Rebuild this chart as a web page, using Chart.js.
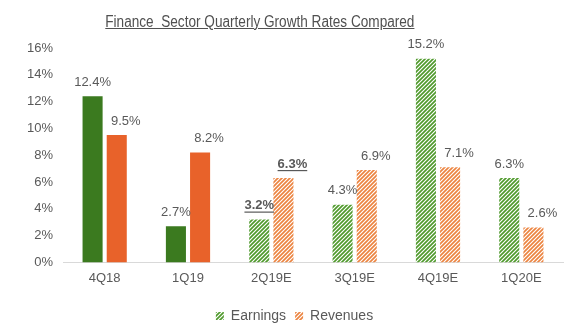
<!DOCTYPE html>
<html>
<head>
<meta charset="utf-8">
<script src="https://cdn.jsdelivr.net/npm/chart.js@4/dist/chart.umd.min.js"></script>
<style>
  html, body { margin: 0; padding: 0; background: #fff; }
  #wrap { position: relative; width: 581px; height: 323px; }
  #title { position: absolute; left: 0; top: 13px; width: 520px; text-align: center;
    font-family: "Liberation Sans", Arial, sans-serif; font-size: 16px;
    color: #505050; white-space: pre; }
  #title span { display: inline-block; transform: scaleX(0.85); transform-origin: center; text-decoration: underline; }
  canvas { position: absolute; left: 0; top: 0; }
</style>
</head>
<body>
<div id="wrap">
  <canvas id="c" width="581" height="323"></canvas>
  <div id="title"><span>Finance  Sector Quarterly Growth Rates Compared</span></div>
</div>
<script>
const categories = ["4Q18", "1Q19", "2Q19E", "3Q19E", "4Q19E", "1Q20E"];
const earnings = [12.4, 2.7, 3.2, 4.3, 15.2, 6.3];
const revenues = [9.5, 8.2, 6.3, 6.9, 7.1, 2.6];
const estimated = [false, false, true, true, true, true];
const seriesNames = ["Earnings", "Revenues"];
const yTicks = [0, 2, 4, 6, 8, 10, 12, 14, 16];

function hatch(color) {
  const s = 4;
  const cv = document.createElement('canvas');
  cv.width = s; cv.height = s;
  const g = cv.getContext('2d');
  g.fillStyle = '#ffffff';
  g.fillRect(0, 0, s, s);
  g.strokeStyle = color;
  g.lineWidth = 1.7;
  g.beginPath();
  g.moveTo(0, s); g.lineTo(s, 0);
  g.moveTo(-1, 1); g.lineTo(1, -1);
  g.moveTo(s - 1, s + 1); g.lineTo(s + 1, s - 1);
  g.stroke();
  return document.getElementById('c').getContext('2d').createPattern(cv, 'repeat');
}
const greenSolid = '#3b7a1f', orangeSolid = '#e8622a';
const greenHatch = hatch('#4f9a2c'), orangeHatch = hatch('#ec8440');

const labelPlugin = {
  id: 'valueLabels',
  afterLayout(chart) {
    const lg = chart.legend;
    if (lg) { lg.top += 10; lg.bottom += 10; lg.left += 13; lg.right += 13; }
  },
  afterDatasetsDraw(chart) {
    const ctx = chart.ctx;
    ctx.save();
    ctx.fillStyle = '#595959';
    ctx.textAlign = 'center';
    ctx.textBaseline = 'middle';
    chart.data.datasets.forEach((ds, di) => {
      const meta = chart.getDatasetMeta(di);
      const dx = di === 1 ? 9 : 0;
      meta.data.forEach((el, i) => {
        const txt = ds.data[i].toFixed(1) + '%';
        const x = el.x + dx, y = el.y - 14;
        const under = categories[i] === '2Q19E';
        ctx.font = (under ? 'bold ' : '') + '13px "Liberation Sans", Arial, sans-serif';
        ctx.fillText(txt, x, y);
        if (under) {
          const w = ctx.measureText(txt).width;
          ctx.fillRect(x - w / 2, y + 6, w, 1.2);
        }
      });
    });
    ctx.restore();
  }
};

new Chart(document.getElementById('c'), {
  type: 'bar',
  data: {
    labels: categories,
    datasets: [
      { label: seriesNames[0], data: earnings,
        backgroundColor: estimated.map(e => e ? greenHatch : greenSolid),
        categoryPercentage: 0.58, barPercentage: 0.83 },
      { label: seriesNames[1], data: revenues,
        backgroundColor: estimated.map(e => e ? orangeHatch : orangeSolid),
        categoryPercentage: 0.58, barPercentage: 0.83 }
    ]
  },
  options: {
    responsive: false,
    animation: false,
    layout: { padding: { top: 48, right: 18, left: 0, bottom: 0 } },
    plugins: {
      title: { display: false },
      tooltip: { enabled: false },
      legend: {
        position: 'bottom',
        labels: {
          boxWidth: 8, boxHeight: 8, padding: 9,
          color: '#595959',
          font: { family: '"Liberation Sans", Arial, sans-serif', size: 14 },
          generateLabels(chart) {
            return [
              { text: seriesNames[0], fillStyle: greenHatch, strokeStyle: 'transparent', lineWidth: 0, datasetIndex: 0, fontColor: '#595959' },
              { text: seriesNames[1], fillStyle: orangeHatch, strokeStyle: 'transparent', lineWidth: 0, datasetIndex: 1, fontColor: '#595959' }
            ];
          }
        }
      }
    },
    scales: {
      x: {
        afterFit(scale) { scale.height -= 4; },
        grid: { display: false, drawTicks: false },
        border: { display: true, color: '#d9d9d9', width: 1 },
        ticks: { color: '#595959', padding: 8, font: { family: '"Liberation Sans", Arial, sans-serif', size: 13 } }
      },
      y: {
        min: 0, max: 16,
        afterFit(scale) { scale.width = 63; },
        afterBuildTicks(scale) { scale.ticks = yTicks.map(v => ({ value: v })); },
        grid: { display: false, drawTicks: false },
        border: { display: false },
        ticks: { color: '#595959', padding: 10, callback: v => v + '%',
          font: { family: '"Liberation Sans", Arial, sans-serif', size: 13 } }
      }
    }
  },
  plugins: [labelPlugin]
});
</script>
</body>
</html>
